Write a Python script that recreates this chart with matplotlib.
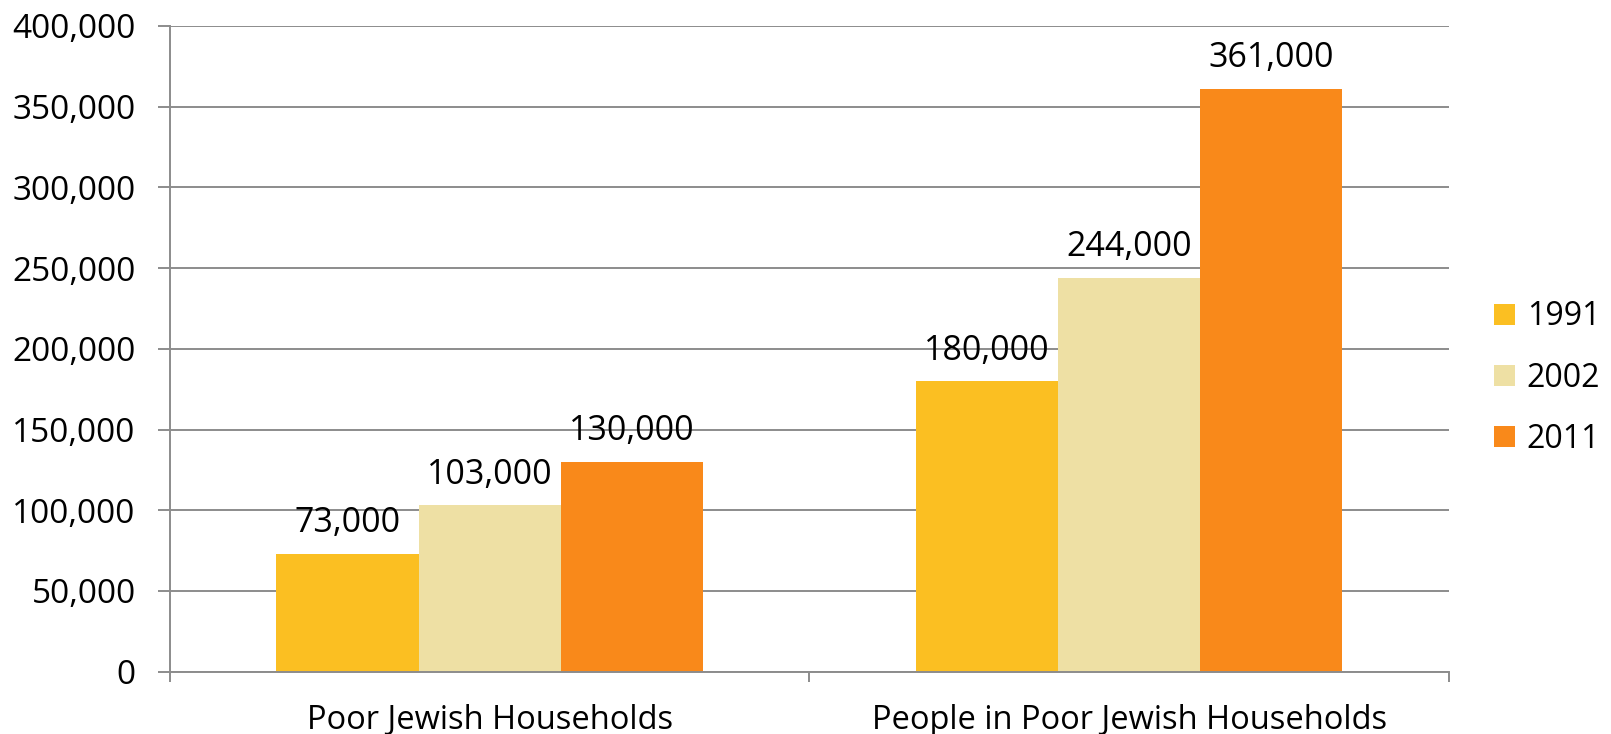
import numpy as np
import matplotlib
matplotlib.use("Agg")
import matplotlib.pyplot as plt
from matplotlib.ticker import FuncFormatter, MultipleLocator, FixedLocator

categories = ["Poor Jewish Households", "People in Poor Jewish Households"]
years = ["1991", "2002", "2011"]
vals_1991 = [73000, 180000]
vals_2002 = [103000, 244000]
vals_2011 = [130000, 361000]
colors = ["#FBBF22", "#EEE0A4", "#F9891A"]

plt.rcParams["font.family"] = ["Open Sans", "DejaVu Sans"]
grid_col = "#8C8C8C"

fig = plt.figure(figsize=(16.11, 7.34), dpi=100)
ax = fig.add_axes([0.1055, 0.085, 0.7939, 0.8796])

x = np.arange(len(categories))
w = 0.667 / 3
series = [vals_1991, vals_2002, vals_2011]
for i, (yr, vals, c) in enumerate(zip(years, series, colors)):
    pos = x + (i - 1) * w
    ax.bar(pos, vals, width=w, color=c, label=yr, zorder=3)
    for p, v in zip(pos, vals):
        ax.annotate(f"{v:,}", (p, v), xytext=(0, 22), textcoords="offset points",
                    ha="center", va="center", fontsize=24.5, zorder=4)

ax.set_xlim(-0.5, 1.5)
ax.set_ylim(0, 400000)
ax.yaxis.set_major_locator(MultipleLocator(50000))
ax.yaxis.set_major_formatter(FuncFormatter(lambda v, _: f"{int(v):,}"))
ax.grid(axis="y", color=grid_col, linewidth=1.4, zorder=0)

ax.set_xticks(x)
ax.set_xticklabels(categories, fontsize=23.5)
ax.xaxis.set_minor_locator(FixedLocator([-0.5, 0.5, 1.5]))
ax.tick_params(axis="x", which="major", length=0, pad=23)
ax.tick_params(axis="x", which="minor", length=7, width=1.4, color=grid_col)
ax.tick_params(axis="y", length=8.6, width=1.4, color=grid_col, labelsize=24, pad=16)

for s in ["top", "right"]:
    ax.spines[s].set_visible(False)
for s in ["left", "bottom"]:
    ax.spines[s].set_color(grid_col)
    ax.spines[s].set_linewidth(1.4)
    ax.spines[s].set_zorder(5)

fig.legend(*ax.get_legend_handles_labels(), loc="center left",
           bbox_to_anchor=(0.9274, 0.485), frameon=False, fontsize=23,
           handlelength=0.65, handleheight=0.65, handletextpad=0.37,
           labelspacing=0.88, borderpad=0, borderaxespad=0)

fig.savefig("out.png", dpi=100)
